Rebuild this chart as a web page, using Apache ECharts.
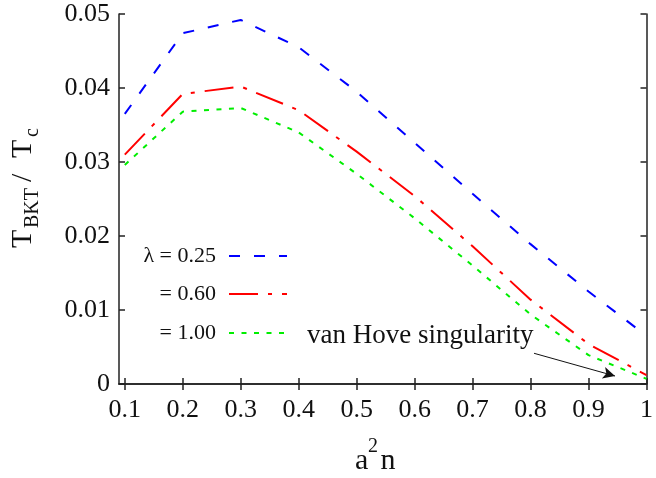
<!DOCTYPE html>
<html>
<head>
<meta charset="utf-8">
<script src="https://cdn.jsdelivr.net/npm/echarts@6/dist/echarts.min.js"></script>
<style>html,body{margin:0;padding:0;background:#fff;}#c{width:656px;height:478px;}</style>
</head>
<body>
<div id="c"></div>
<script>
// ---- data ----
const xValues = [0.1, 0.2, 0.3, 0.4, 0.5, 0.6, 0.7, 0.8, 0.9, 1.0];
const lambda025 = [0.0365, 0.0474, 0.0492, 0.0455, 0.0395, 0.0326, 0.0257, 0.0189, 0.0125, 0.0065];
const lambda060 = [0.0310, 0.0392, 0.0402, 0.0370, 0.0314, 0.0254, 0.0186, 0.0114, 0.0054, 0.0012];
const lambda100 = [0.0296, 0.0368, 0.0373, 0.0340, 0.0284, 0.0224, 0.0160, 0.0094, 0.0039, 0.0007];
const xTicks = [0.1, 0.2, 0.3, 0.4, 0.5, 0.6, 0.7, 0.8, 0.9, 1.0];
const yTicks = [0, 0.01, 0.02, 0.03, 0.04, 0.05];
const legendLabels = ['λ = 0.25', '= 0.60', '= 1.00'];
const annotationText = 'van Hove singularity';
const arrowFrom = [0.806, 0.00415];
const arrowTo = [0.9457, 0.00108];

const FONT = '"Liberation Serif", "DejaVu Serif", serif';
const pair = (xs, ys) => xs.map((x, i) => [x, ys[i]]);

const chart = echarts.init(document.getElementById('c'), null, {renderer: 'canvas'});

const axisLineStyle = {color: '#222', width: 1.5};
const tickStyle = {show: true, inside: true, length: 6, lineStyle: {color: '#222', width: 1.5}};

const legendRowsY = [256, 294, 333];
const legendStyles = [
  {color: '#0000ff', dash: [11, 14]},
  {color: '#ff0000', dash: [29, 10, 4, 10]},
  {color: '#00ee00', dash: [5, 7.5]}
];

const graphics = [];
legendLabels.forEach((t, i) => {
  graphics.push({type: 'text', x: 216, y: legendRowsY[i],
    style: {text: t, font: '22px ' + FONT, fill: '#111', align: 'right', verticalAlign: 'middle'}});
  graphics.push({type: 'line', shape: {x1: 229, y1: legendRowsY[i], x2: 287, y2: legendRowsY[i]},
    style: {stroke: legendStyles[i].color, lineWidth: 2, lineDash: legendStyles[i].dash}});
});
graphics.push({type: 'text', x: 307, y: 336,
  style: {text: annotationText, font: '27px ' + FONT, fill: '#111', align: 'left', verticalAlign: 'middle'}});
// x-axis title a^2 n
graphics.push({type: 'text', x: 355, y: 461.5, style: {text: 'a', font: '30px ' + FONT, fill: '#111', align: 'left', verticalAlign: 'middle'}});
graphics.push({type: 'text', x: 368, y: 446.7, style: {text: '2', font: '20px ' + FONT, fill: '#111', align: 'left', verticalAlign: 'middle'}});
graphics.push({type: 'text', x: 380.5, y: 461.5, style: {text: 'n', font: '30px ' + FONT, fill: '#111', align: 'left', verticalAlign: 'middle'}});
// y-axis title T_BKT / T_c (rotated)
graphics.push({type: 'group', x: 33, y: 248, rotation: Math.PI / 2, children: [
  {type: 'text', x: 0, y: -10.2, style: {text: 'T', font: '30px ' + FONT, fill: '#111', align: 'left', verticalAlign: 'middle'}},
  {type: 'text', x: 20, y: 0, style: {text: 'BKT', font: '20px ' + FONT, fill: '#111', align: 'left', verticalAlign: 'middle'}},
  {type: 'text', x: 66, y: -10.2, style: {text: '/', font: '30px ' + FONT, fill: '#111', align: 'left', verticalAlign: 'middle'}},
  {type: 'text', x: 90, y: -10.2, style: {text: 'T', font: '30px ' + FONT, fill: '#111', align: 'left', verticalAlign: 'middle'}},
  {type: 'text', x: 111, y: -0.5, style: {text: 'c', font: '20px ' + FONT, fill: '#111', align: 'left', verticalAlign: 'middle'}}
]});

const option = {
  animation: false,
  backgroundColor: '#fff',
  grid: {left: 119, top: 14, right: 6, bottom: 94, containLabel: false},
  xAxis: [
    {type: 'value', min: 0.09, max: 1.0, position: 'bottom',
      axisLine: {show: true, lineStyle: axisLineStyle},
      axisTick: Object.assign({customValues: xTicks}, tickStyle),
      splitLine: {show: false},
      axisLabel: {customValues: xTicks, margin: 13, color: '#111', fontFamily: FONT, fontSize: 26,
        formatter: v => (Math.abs(v - 1) < 1e-9 ? '1' : v.toFixed(1))}},
    {type: 'value', min: 0.09, max: 1.0, position: 'top',
      axisLine: {show: true, lineStyle: axisLineStyle},
      axisTick: Object.assign({customValues: xTicks}, tickStyle),
      splitLine: {show: false}, axisLabel: {show: false}}
  ],
  yAxis: [
    {type: 'value', min: 0, max: 0.05, interval: 0.01, position: 'left',
      axisLine: {show: true, lineStyle: axisLineStyle},
      axisTick: Object.assign({customValues: yTicks}, tickStyle),
      splitLine: {show: false},
      axisLabel: {customValues: yTicks, margin: 9, color: '#111', fontFamily: FONT, fontSize: 26,
        formatter: v => (v === 0 ? '0' : v.toFixed(2))}},
    {type: 'value', min: 0, max: 0.05, interval: 0.01, position: 'right',
      axisLine: {show: true, lineStyle: axisLineStyle},
      axisTick: Object.assign({customValues: yTicks}, tickStyle),
      splitLine: {show: false}, axisLabel: {show: false}}
  ],
  series: [
    {name: 'λ = 0.25', type: 'line', data: pair(xValues, lambda025), showSymbol: false, symbol: 'none',
      lineStyle: {color: '#0000ff', width: 2, type: legendStyles[0].dash}},
    {name: '= 0.60', type: 'line', data: pair(xValues, lambda060), showSymbol: false, symbol: 'none',
      lineStyle: {color: '#ff0000', width: 2, type: legendStyles[1].dash}},
    {name: '= 1.00', type: 'line', data: pair(xValues, lambda100), showSymbol: false, symbol: 'none',
      lineStyle: {color: '#00ee00', width: 2, type: legendStyles[2].dash},
      markLine: {silent: true, symbol: ['none', 'arrow'], symbolSize: [9, 12],
        label: {show: false},
        lineStyle: {color: '#111', width: 1, type: 'solid'},
        data: [[{coord: arrowFrom}, {coord: arrowTo}]]}}
  ],
  graphic: graphics
};
chart.setOption(option);
</script>
</body>
</html>
